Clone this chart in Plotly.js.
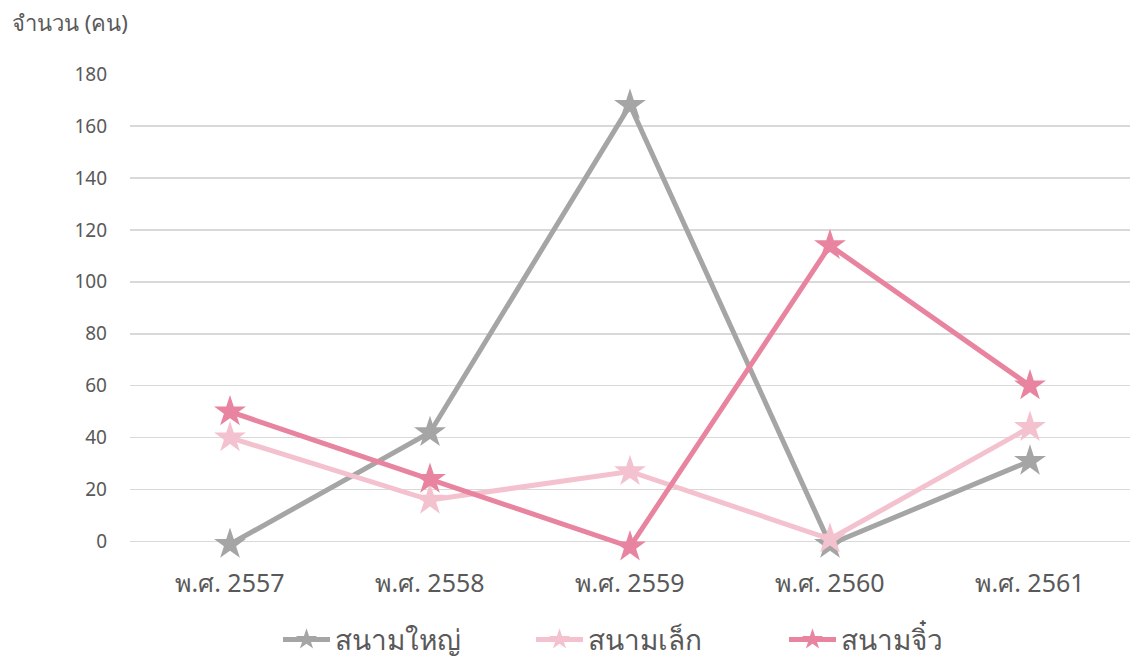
<!DOCTYPE html>
<html>
<head>
<meta charset="utf-8">
<script src="https://cdn.plot.ly/plotly-3.0.1.min.js"></script>
<style>html,body{margin:0;padding:0;background:#fff;}#chart{width:1135px;height:661px;}</style>
</head>
<body>
<div id="chart"></div>
<script>
const categories = ["พ.ศ. 2557", "พ.ศ. 2558", "พ.ศ. 2559", "พ.ศ. 2560", "พ.ศ. 2561"];
const seriesNames = ["สนามใหญ่", "สนามเล็ก", "สนามจิ๋ว"];
const bigField = [-1, 42, 168, -1, 31];
const smallField = [40, 16, 27, 1, 44];
const tinyField = [50, 24, -2, 114, 60];
const colors = ["#A5A5A5", "#F4C2CF", "#E8849F"];
const yTicks = [0, 20, 40, 60, 80, 100, 120, 140, 160, 180];
const yTitle = "จำนวน (คน)";

const fontFam = "'Noto Sans', 'Open Sans', sans-serif";
const series = [bigField, smallField, tinyField];
const traces = series.map((vals, i) => ({
  type: "scatter",
  mode: "lines+markers",
  name: seriesNames[i],
  x: categories,
  y: vals,
  line: {color: colors[i], width: 5},
  marker: {symbol: "star", size: 24, color: colors[i], line: {width: 0}},
  cliponaxis: false
}));

const layout = {
  width: 1135, height: 661,
  paper_bgcolor: "#fff", plot_bgcolor: "#fff",
  margin: {l: 130, r: 5, t: 74, b: 109, autoexpand: false},
  font: {family: fontFam, color: "#595959"},
  showlegend: true,
  legend: {
    orientation: "h", x: 278/1135, xref: "container", xanchor: "left",
    y: 0.032, yref: "container", yanchor: "middle",
    font: {size: 28, color: "#595959", family: fontFam},
    itemwidth: 47, entrywidth: 191, entrywidthmode: "pixels", traceorder: "normal"
  },
  xaxis: {
    type: "category",
    range: [-0.5, 4.5],
    showgrid: false, zeroline: false, showline: false,
    ticks: "", ticklabelstandoff: 14,
    tickfont: {size: 25, color: "#595959", family: fontFam}
  },
  yaxis: {
    range: [-4, 180],
    tickvals: yTicks,
    showgrid: true, gridcolor: "#D9D9D9", gridwidth: 1.5,
    zeroline: false, showline: false, ticks: "",
    ticklabelstandoff: 22,
    tickfont: {size: 19, color: "#595959", family: fontFam}
  },
  annotations: [{
    text: yTitle, xref: "paper", yref: "paper",
    x: -120/1000, y: 1 + (74-22)/478, xanchor: "left", yanchor: "middle",
    showarrow: false, font: {size: 22, color: "#595959", family: fontFam}
  }]
};

Plotly.newPlot("chart", traces, layout, {displayModeBar: false, staticPlot: true});
</script>
</body>
</html>
